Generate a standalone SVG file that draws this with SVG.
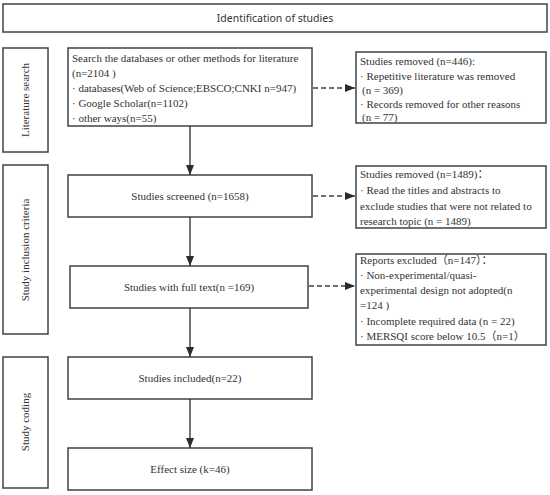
<svg xmlns="http://www.w3.org/2000/svg" width="550" height="495" viewBox="0 0 550 495">
<defs>
<style>
.box{fill:#fff;stroke:#3c434b;stroke-width:1.5}
.t{font-family:"Liberation Serif","Times New Roman",serif;font-size:11px;fill:#333}
.c{text-anchor:middle}
.side{font-family:"Liberation Serif","Times New Roman",serif;font-size:11px;fill:#333;text-anchor:middle}
.title{font-family:"Noto Sans","Open Sans",sans-serif;font-size:10.5px;fill:#333;text-anchor:middle}
.solid{stroke:#2b2b2b;stroke-width:1.3;fill:none}
.dash{stroke:#3c434b;stroke-width:1.5;fill:none;stroke-dasharray:5,3}
</style>
<marker id="ah" markerWidth="10" markerHeight="8" refX="10" refY="4" orient="auto" markerUnits="userSpaceOnUse">
<path d="M0,0 L10,4 L0,8 Z" fill="#2b2b2b"/>
</marker>
</defs>
<rect width="550" height="495" fill="#fff"/>

<g id="title">
<rect class="box" x="3" y="4" width="544" height="28"/>
<text class="title" x="275" y="22">Identification of studies</text>
</g>

<g id="side-literature">
<rect class="box" x="3" y="48" width="45" height="104"/>
<text class="side" transform="translate(29,100) rotate(-90)">Literature search</text>
</g>
<g id="side-inclusion">
<rect class="box" x="3" y="165" width="45" height="169"/>
<text class="side" transform="translate(29,250) rotate(-90)">Study inclusion criteria</text>
</g>
<g id="side-coding">
<rect class="box" x="3" y="357" width="45" height="131"/>
<text class="side" transform="translate(29,422) rotate(-90)">Study coding</text>
</g>

<g id="search">
<rect class="box" x="68" y="48" width="244" height="78"/>
<text class="t" x="72" y="62">Search the databases or other methods for literature</text>
<text class="t" x="72" y="77">(n=2104 )</text>
<text class="t" x="72" y="92">· databases(Web of Science;EBSCO;CNKI n=947)</text>
<text class="t" x="72" y="107">· Google Scholar(n=1102)</text>
<text class="t" x="72" y="122">· other ways(n=55)</text>
</g>

<g id="removed1">
<rect class="box" x="356" y="52" width="190" height="71"/>
<text class="t" x="360" y="65">Studies removed (n=446):</text>
<text class="t" x="360" y="80">· Repetitive literature was removed</text>
<text class="t" x="362" y="94">(n = 369)</text>
<text class="t" x="360" y="108">· Records removed for other reasons</text>
<text class="t" x="362" y="121">(n = 77)</text>
</g>

<g id="screened">
<rect class="box" x="68" y="175" width="244" height="42"/>
<text class="t c" x="190" y="200">Studies screened (n=1658)</text>
</g>

<g id="removed2">
<rect class="box" x="356" y="166" width="190" height="62"/>
<text class="t" x="360" y="178">Studies removed (n=1489)<tspan font-family="Noto Sans CJK SC,sans-serif">：</tspan></text>
<text class="t" x="360" y="194">· Read the titles and abstracts to</text>
<text class="t" x="360" y="210">exclude studies that were not related to</text>
<text class="t" x="360" y="225">research topic (n = 1489)</text>
</g>

<g id="fulltext">
<rect class="box" x="70" y="266" width="238" height="42"/>
<text class="t c" x="189" y="291">Studies with full text(n =169)</text>
</g>

<g id="reports">
<rect class="box" x="356" y="254" width="190" height="91"/>
<text class="t" x="360" y="264">Reports excluded<tspan font-family="Noto Sans CJK SC,sans-serif">（</tspan>n=147<tspan font-family="Noto Sans CJK SC,sans-serif">）：</tspan></text>
<text class="t" x="360" y="279">· Non-experimental/quasi-</text>
<text class="t" x="360" y="294">experimental design not adopted(n</text>
<text class="t" x="360" y="309">=124 )</text>
<text class="t" x="360" y="325">· Incomplete required data (n = 22)</text>
<text class="t" x="360" y="340">· MERSQI score below 10.5<tspan font-family="Noto Sans CJK SC,sans-serif">（</tspan>n=1<tspan font-family="Noto Sans CJK SC,sans-serif">）</tspan></text>
</g>

<g id="included">
<rect class="box" x="68" y="357" width="244" height="42"/>
<text class="t c" x="190" y="382">Studies included(n=22)</text>
</g>

<g id="effect">
<rect class="box" x="68" y="448" width="244" height="42"/>
<text class="t c" x="190" y="473">Effect size (k=46)</text>
</g>

<g id="connectors">
<line class="solid" x1="190" y1="126" x2="190" y2="175" marker-end="url(#ah)"/>
<line class="solid" x1="190" y1="217" x2="190" y2="266" marker-end="url(#ah)"/>
<line class="solid" x1="190" y1="308" x2="190" y2="357" marker-end="url(#ah)"/>
<line class="solid" x1="190" y1="399" x2="190" y2="448" marker-end="url(#ah)"/>
<line class="dash" x1="313" y1="88" x2="355" y2="88" marker-end="url(#ah)"/>
<line class="dash" x1="313" y1="196" x2="355" y2="196" marker-end="url(#ah)"/>
<line class="dash" x1="309" y1="286" x2="355" y2="286" marker-end="url(#ah)"/>
</g>
</svg>
